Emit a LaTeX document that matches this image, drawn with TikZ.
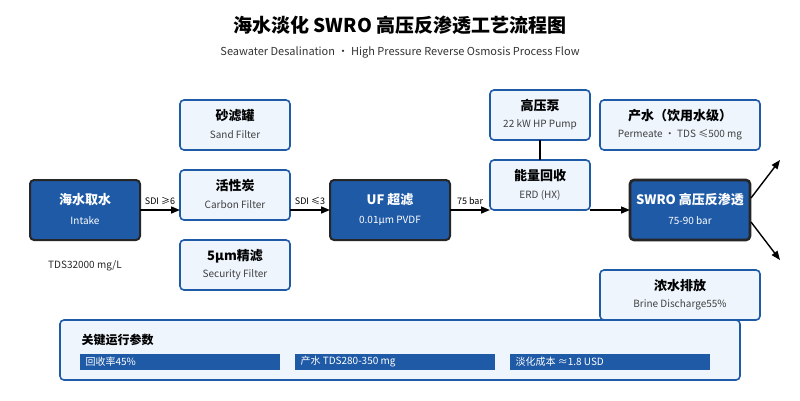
\documentclass[tikz,border=0pt]{standalone}
\usepackage{fontspec}
\setmainfont{Noto Sans CJK SC}
\usetikzlibrary{arrows.meta}
\definecolor{deepblue}{HTML}{1F5AA6}
\definecolor{paleblue}{HTML}{EEF5FD}
\tikzset{
  light/.style={draw=deepblue, fill=paleblue, line width=1.6pt, rounded corners=4pt},
  dark/.style={draw=black!85, fill=deepblue, line width=2pt, rounded corners=4pt},
  flow/.style={line width=1.6pt, -{Triangle[length=9pt,width=7pt]}},
}
\begin{document}
\begin{tikzpicture}[x=1pt, y=-1pt]
    \useasboundingbox (0,0) rectangle (800,400);

    % title
    \node (title) at (400,25) {\fontsize{19}{22}\selectfont\bfseries 海水淡化 SWRO 高压反渗透工艺流程图};
    \node (subtitle) at (400,52) {\fontsize{11}{13}\selectfont\color{black!80} Seawater Desalination · High Pressure Reverse Osmosis Process Flow};

    % dark stages
    \draw[dark] (30,180) rectangle (140,240);
    \node[text=white] (intake) at (85,200) {\fontsize{13}{15}\selectfont\bfseries 海水取水};
    \node[text=white] at (85,221) {\fontsize{10}{12}\selectfont Intake};
    \draw[dark] (330,180) rectangle (450,240);
    \node[text=white] (uf) at (390,200) {\fontsize{13}{15}\selectfont\bfseries UF 超滤};
    \node[text=white] at (390,221) {\fontsize{10}{12}\selectfont 0.01μm PVDF};
    \draw[dark, line width=2.6pt] (630,180) rectangle (750,240);
    \node[text=white] (swro) at (690,200) {\fontsize{13}{15}\selectfont\bfseries SWRO 高压反渗透};
    \node[text=white] at (690,221) {\fontsize{10}{12}\selectfont 75-90 bar};

    % light stages
    \foreach \X/\Y/\W/\H/\Main/\Sub in {
        180/100/110/50/砂滤罐/Sand Filter,
        180/170/110/50/活性炭/Carbon Filter,
        180/240/110/50/5μm精滤/Security Filter,
        490/90/100/50/高压泵/22 kW HP Pump,
        490/160/100/50/能量回收/ERD (HX),
        600/100/160/50/产水（饮用水级）/Permeate · TDS ≤500 mg/L,
        600/270/160/50/浓水排放/Brine Discharge55\%}{
        \draw[light] (\X,\Y) rectangle ++(\W,\H);
        \node at (\X+\W/2,\Y+16) {\fontsize{13}{15}\selectfont\bfseries \Main};
        \node at (\X+\W/2,\Y+35) {\fontsize{10}{12}\selectfont\color{black!75} \Sub};
    }
    \node (tds) at (85,266) {\fontsize{10}{12}\selectfont\color{black!85} TDS32000 mg/L};

    % connectors
    \coordinate (a1) at (140,210); \coordinate (a2) at (180,210);
    \coordinate (b1) at (290,210); \coordinate (b2) at (330,210);
    \coordinate (c1) at (450,210); \coordinate (c2) at (490,210);
    \coordinate (d1) at (590,210); \coordinate (d2) at (630,210);
    \draw[flow] (a1) -- node[above=1pt, font=\fontsize{9}{11}\selectfont] {SDI ≥6} (a2);
    \draw[flow] (b1) -- node[above=1pt, font=\fontsize{9}{11}\selectfont] {SDI ≤3} (b2);
    \draw[flow] (c1) -- node[above=1pt, font=\fontsize{9}{11}\selectfont] {75 bar} (c2);
    \draw[flow] (d1) -- (d2);
    \coordinate (pump) at (540,140); \coordinate (erd) at (540,160);
    \draw[line width=1.6pt] (pump) -- (erd);
    \coordinate (s1) at (751,198); \coordinate (s2) at (780,160);
    \coordinate (s3) at (751,222); \coordinate (s4) at (780,260);
    \draw[flow, line width=1.4pt] (s1) -- (s2);
    \draw[flow, line width=1.4pt] (s3) -- (s4);

    % parameters
    \draw[light] (60,320) rectangle (740,380);
    \node[anchor=west] (params) at (78,340) {\fontsize{12}{14}\selectfont\bfseries 关键运行参数};
    \foreach \X/\Txt in {80/回收率45\%, 295/产水 TDS280-350 mg/L, 510/淡化成本 ≈1.8 USD/m³}{
        \fill[deepblue] (\X,354) rectangle ++(200,16);
        \node[anchor=west, text=white] at (\X+2,362) {\fontsize{10}{12}\selectfont \Txt};
    }
\end{tikzpicture}
\end{document}
